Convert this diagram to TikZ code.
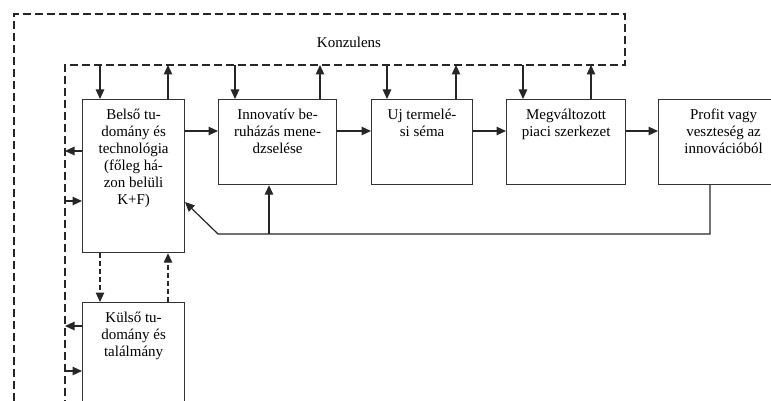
\documentclass[tikz,border=0pt]{standalone}
\usepackage{fontspec}
\setmainfont{Liberation Serif}
\newfontfamily\diagfont{Liberation Serif}
\usetikzlibrary{arrows.meta,calc}
\begin{document}
\begin{tikzpicture}[x=1pt,y=-1pt,
  box/.style={draw=black!80,line width=1.2pt,rectangle,anchor=north west,inner sep=0pt},
  lbl/.style={anchor=north,align=center,inner sep=0pt,font=\diagfont\fontsize{15}{17}\selectfont},
  arr/.style={draw=black!85,line width=1.2pt,-{Triangle[length=9.5pt,width=8.5pt]}},
  dsh/.style={draw=black!85,line width=1.2pt,dash pattern=on 8pt off 4pt},
  darr/.style={arr,dash pattern=on 5pt off 3pt}]
\useasboundingbox (0,0) rectangle (771,401);
% consultant frame
\coordinate (o1) at (14,401);
\coordinate (o2) at (14,14);
\coordinate (o3) at (625,14);
\coordinate (o4) at (625,65);
\coordinate (k) at (65,65);
\coordinate (o6) at (65,401);
\draw[dsh] (o1) -- (o2) -- (o3) -- (o4) -- (k) -- (o6);
\node[lbl] (kons) at (349,37) {Konzulens};
% boxes
\node[box,minimum width=102pt,minimum height=153pt] (b1) at (82,99) {};
\node[box,minimum width=118pt,minimum height=85pt] (b2) at (218,99) {};
\node[box,minimum width=101pt,minimum height=85pt] (b3) at (371,99) {};
\node[box,minimum width=119pt,minimum height=85pt] (b4) at (506,99) {};
\node[box,minimum width=130pt,minimum height=85pt] (b5) at (658,99) {};
\node[box,minimum width=102pt,minimum height=130pt] (b6) at (82,302) {};
% texts
\node[lbl] (t1) at ($(b1.north)+(0,10)$) {Belső tu-\\domány és\\technológia\\(főleg há-\\zon belüli\\K+F)};
\node[lbl] (t2) at ($(b2.north)+(0,10)$) {Innovatív be-\\ruházás mene-\\dzselése};
\node[lbl] (t3) at ($(b3.north)+(0,10)$) {Uj termelé-\\si séma};
\node[lbl] (t4) at ($(b4.north)+(0,10)$) {Megváltozott\\piaci szerkezet};
\node[lbl] (t5) at ($(b5.north)+(0,10)$) {Profit vagy\\veszteség az\\innovációból};
\node[lbl] (t6) at ($(b6.north)+(0,10)$) {Külső tu-\\domány és\\találmány};
% top arrows
\path (b1.north west) ++(18,0) coordinate (b1in) ++(68,0) coordinate (b1out);
\path (b2.north west) ++(17,0) coordinate (b2in) ++(85,0) coordinate (b2out);
\path (b3.north west) ++(16,0) coordinate (b3in) ++(69,0) coordinate (b3out);
\path (b4.north west) ++(17,0) coordinate (b4in) ++(68,0) coordinate (b4out);
\foreach \i in {1,2,3,4}{
  \draw[arr] (b\i in |- k) -- (b\i in);
  \draw[arr] (b\i out) -- (b\i out |- k);
}
% horizontal chain
\draw[arr] (b1.east |- 0,131) -- (b2.west |- 0,131);
\draw[arr] (b2.east |- 0,131) -- (b3.west |- 0,131);
\draw[arr] (b3.east |- 0,131) -- (b4.west |- 0,131);
\draw[arr] (b4.east |- 0,131) -- (b5.west |- 0,131);
% feedback
\coordinate (f1) at (710,234);
\coordinate (f2) at (218,234);
\coordinate (f3) at (269,234);
\draw[arr] (b5.south -| f1) -- (f1) -- (f2) -- (185,202);
\draw[arr] (f3) -- (b2.south -| f3);
% left arrows
\draw[arr] (b1.west |- 0,151) -- (k |- 0,151);
\draw[arr] (k |- 0,201) -- (b1.west |- 0,201);
\draw[arr] (b6.west |- 0,326) -- (k |- 0,326);
\draw[arr] (k |- 0,371) -- (b6.west |- 0,371);
% dashed between b1 and b6
\draw[darr] (b1.south -| b1in) -- (b6.north -| b1in);
\draw[darr] (b6.north -| b1out) -- (b1.south -| b1out);
\end{tikzpicture}
\end{document}
